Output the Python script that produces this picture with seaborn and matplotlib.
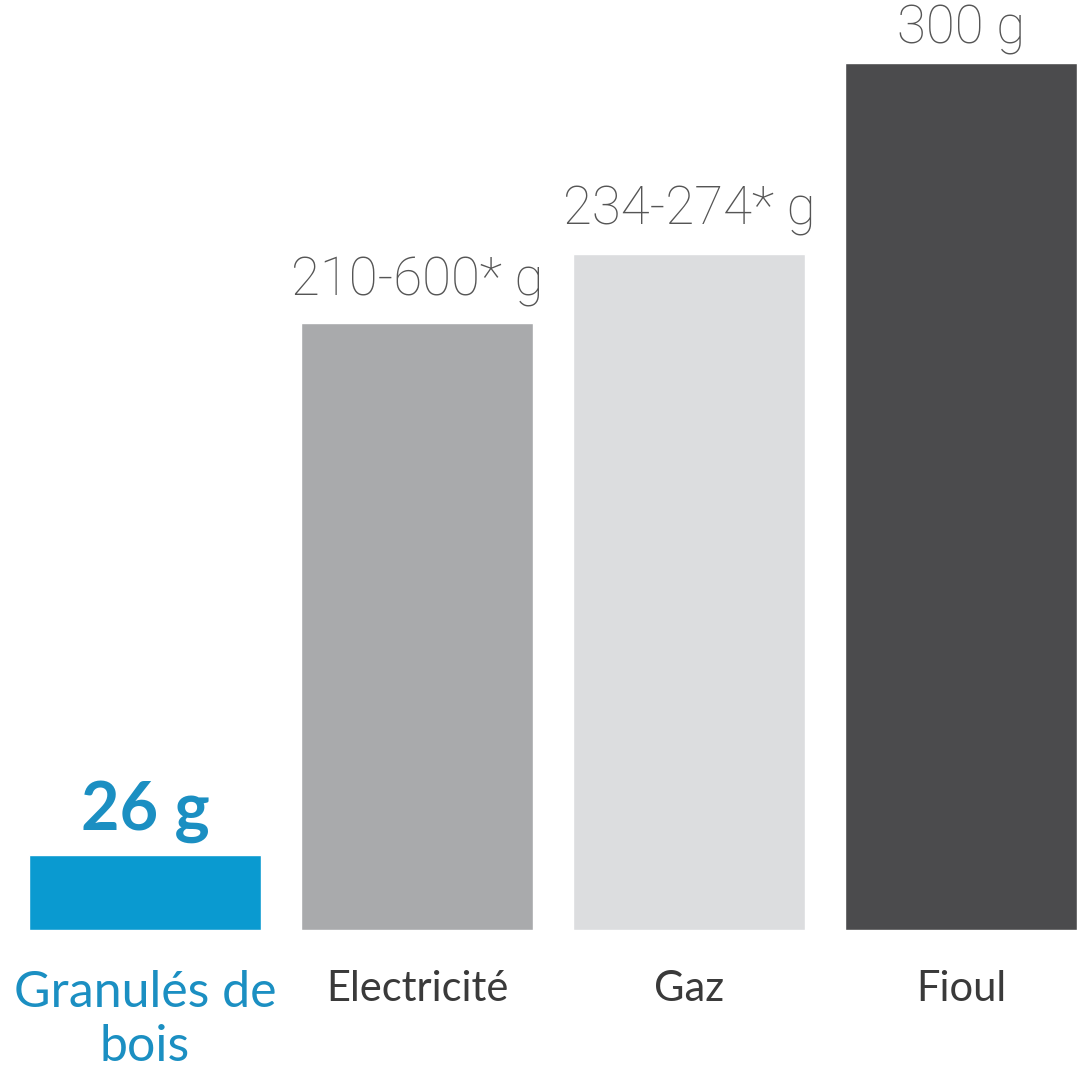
import matplotlib
matplotlib.use("Agg")
import matplotlib.pyplot as plt
import seaborn as sns

categories = ["Granulés de\nbois", "Electricité", "Gaz", "Fioul"]
values = [26, 210, 234, 300]
value_labels = ["26 g", "210-600* g", "234-274* g", "300 g"]
bar_colors = ["#0a9ad0", "#a9aaac", "#dcdddf", "#4b4b4d"]
label_colors = ["#1b8fc2", "#3a3a3a", "#3a3a3a", "#3a3a3a"]

sns.set_theme(style="white")
plt.rcParams['font.family'] = ['Lato', 'DejaVu Sans']

fig = plt.figure(figsize=(10.8, 10.8), dpi=100)
ax = fig.add_axes([0, 150 / 1080, 1, 930 / 1080])

sns.barplot(x=categories, y=values, hue=categories, palette=bar_colors,
            legend=False, width=0.855, saturation=1, ax=ax)

ax.set_xlim(-145 / 272, 3 + 119 / 272)
ax.set_ylim(0, 930 / 2.89)

# value labels above the bars
pads = [18, 20, 21, 14]
for i, (v, lbl) in enumerate(zip(values, value_labels)):
    if i == 0:
        ax.annotate(lbl, (i, v), xytext=(0, pads[i]), textcoords="offset points",
                    ha="center", va="baseline", fontsize=48, fontweight="bold",
                    color=label_colors[i])
    else:
        ax.annotate(lbl, (i, v), xytext=(0, pads[i]), textcoords="offset points",
                    ha="center", va="baseline", fontsize=38, fontweight="light",
                    family=["Roboto", "DejaVu Sans"], color="#555555")

ax.set_xticks(range(len(categories)))
ax.set_xticklabels(categories)
ax.tick_params(axis="x", length=0, pad=29)
for i, t in enumerate(ax.get_xticklabels()):
    t.set_color(label_colors[i])
    if i == 0:
        t.set_fontsize(36)
        t.set_linespacing(1.2)
    else:
        t.set_fontsize(30)
ax.set_yticks([])
ax.set_xlabel("")
ax.set_ylabel("")
sns.despine(ax=ax, left=True, bottom=True)

fig.savefig("out.png", dpi=100)
